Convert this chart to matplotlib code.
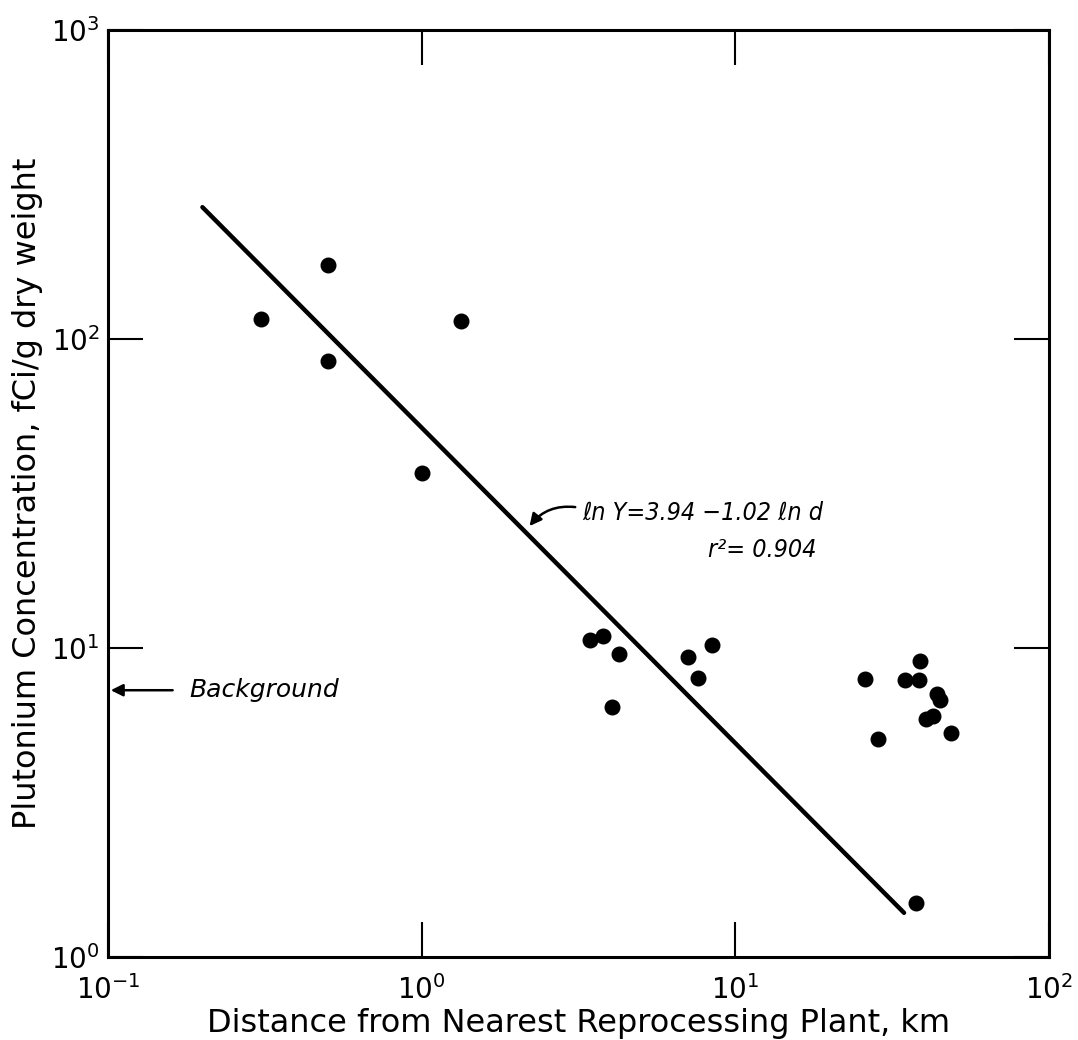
import matplotlib
matplotlib.use("Agg")
from matplotlib import pyplot as plt
from matplotlib.ticker import FixedLocator, FixedFormatter, NullLocator

# data
dist_km = [0.307, 0.503, 0.503, 1.0, 1.334,
           3.44, 3.78, 4.26, 4.04, 7.06, 8.42, 7.60,
           25.9, 28.5, 34.7, 38.5, 38.8, 43.9, 44.9, 40.5, 42.6, 48.7, 37.7]
pu_conc = [116, 174, 84.9, 36.8, 114,
           10.6, 10.9, 9.56, 6.44, 9.35, 10.2, 8.0,
           7.94, 5.08, 7.88, 7.88, 9.08, 7.10, 6.79, 5.89, 6.03, 5.31, 1.50]

# fitted line  ln Y = 3.94 - 1.02 ln d  (end points as drawn)
fit_x = [0.2, 34.5]
fit_y = [267, 1.39]

background = 7.3

x_ticks = [0.1, 1, 10, 100]
x_labels = ["$10^{-1}$", "$10^{0}$", "$10^{1}$", "$10^{2}$"]
y_ticks = [1, 10, 100, 1000]
y_labels = ["$10^{0}$", "$10^{1}$", "$10^{2}$", "$10^{3}$"]

plt.rcParams['font.family'] = ['DejaVu Sans']
plt.rcParams['mathtext.fontset'] = 'dejavusans'

fig = plt.figure(figsize=(10.78, 10.40), dpi=100)
ax = fig.add_axes([0.1002, 0.0798, 0.8729, 0.8914])

ax.set_xscale("log")
ax.set_yscale("log")
ax.set_xlim(0.1, 100)
ax.set_ylim(1, 1000)

ax.plot(fit_x, fit_y, color="black", lw=3.2, solid_capstyle="round")
ax.scatter(dist_km, pu_conc, s=110, color="black", zorder=3)

ax.xaxis.set_major_locator(FixedLocator(x_ticks))
ax.xaxis.set_major_formatter(FixedFormatter(x_labels))
ax.yaxis.set_major_locator(FixedLocator(y_ticks))
ax.yaxis.set_major_formatter(FixedFormatter(y_labels))
ax.xaxis.set_minor_locator(NullLocator())
ax.yaxis.set_minor_locator(NullLocator())

ax.tick_params(which="major", direction="in", length=25, width=1.5,
               top=True, right=True, labelsize=20, colors="black")
ax.tick_params(axis="x", pad=13)
ax.tick_params(axis="y", pad=6)
for s in ax.spines.values():
    s.set_linewidth(2.2)

ax.set_xlabel("Distance from Nearest Reprocessing Plant, km", fontsize=23, labelpad=2)
ax.set_ylabel("Plutonium Concentration, fCi/g dry weight", fontsize=23, labelpad=6)

# equation with curved arrow to the line
ax.annotate("", xy=(2.18, 24.4), xytext=(3.15, 28.5),
            arrowprops=dict(arrowstyle="-|>", color="black", lw=1.8,
                            connectionstyle="arc3,rad=0.3", mutation_scale=18))
ax.text(3.24, 27.3, "\u2113n Y=3.94 \u22121.02 \u2113n d", fontsize=18,
        style="italic", fontstretch="condensed", va="center", ha="left")
ax.text(8.18, 20.8, "r\u00b2= 0.904", fontsize=18, style="italic",
        fontstretch="condensed", va="center", ha="left")

# background marker
ax.annotate("", xy=(0.1, background), xytext=(0.164, background),
            arrowprops=dict(arrowstyle="-|>", color="black", lw=1.8, mutation_scale=18))
ax.text(0.182, background, "Background", fontsize=18, style="italic",
        va="center", ha="left")

plt.savefig("out.png", dpi=100)
